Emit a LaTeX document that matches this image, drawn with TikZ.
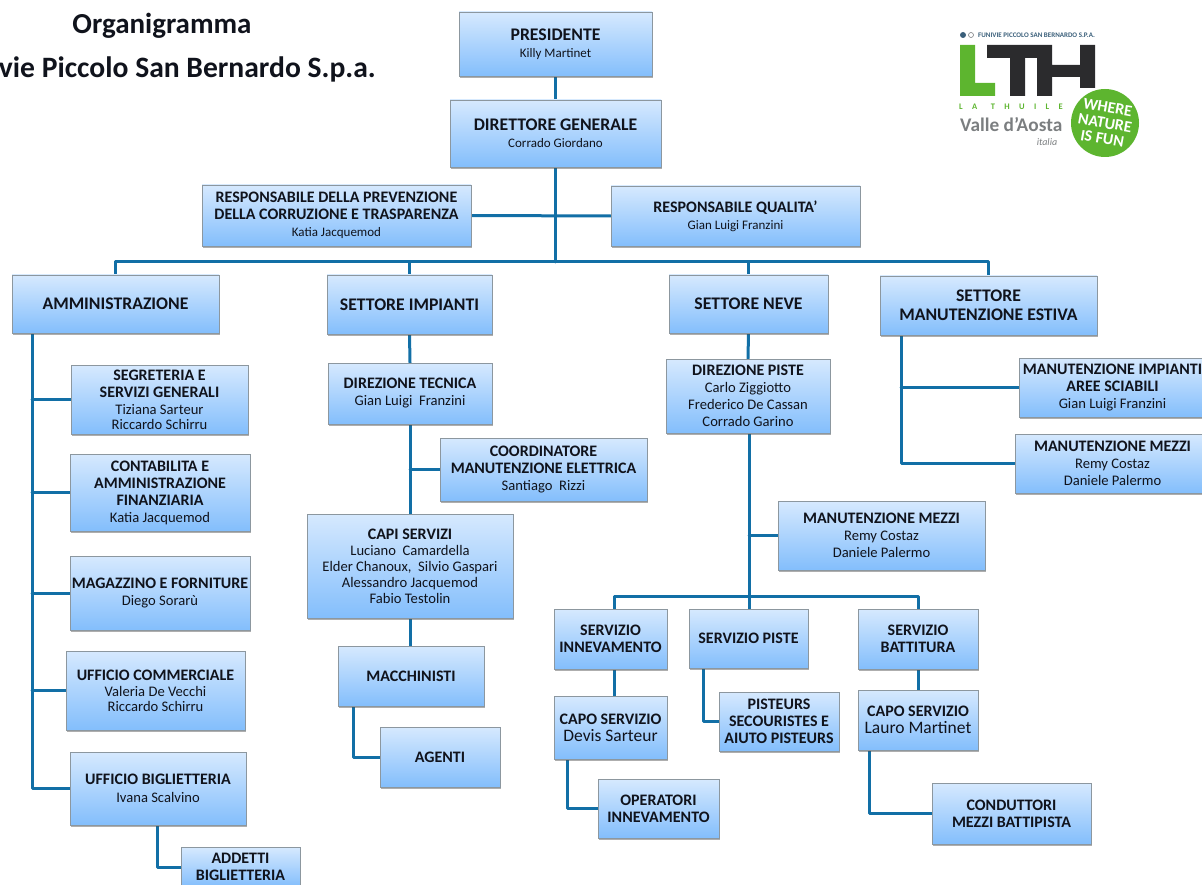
\documentclass[tikz,border=0pt]{standalone}
\usepackage{fontspec}
\setmainfont{Carlito}
\usetikzlibrary{shadows,backgrounds}
\definecolor{conn}{HTML}{126FA6}
\definecolor{boxtop}{HTML}{D6E9FE}
\definecolor{boxbot}{HTML}{83BEFC}
\definecolor{boxline}{HTML}{8C979F}
\definecolor{ink}{HTML}{10131C}
\definecolor{lgreen}{HTML}{5DB52F}
\definecolor{ldark}{HTML}{2B2B2D}
\definecolor{lgray}{HTML}{7B7E80}
\definecolor{lblue}{HTML}{3A5F7A}
\tikzset{
  boxn/.style={draw=boxline,line width=.6pt,top color=boxtop,bottom color=boxbot,
    drop shadow={shadow xshift=.8pt,shadow yshift=-1.6pt,opacity=.45,fill=black!70},
    inner sep=0pt,align=center,text=ink,font=\fontsize{16}{17}\selectfont},
  link/.style={draw=conn,line width=3pt,line join=round,line cap=round},
  titletext/.style={font=\fontsize{29}{32}\selectfont\bfseries,text=ink,inner sep=0pt}
}
\newcommand\hd[1]{{\bfseries #1}}
\newcommand\hb[1]{{\bfseries\fontsize{17.7}{19}\selectfont #1}}
\newcommand\sm[1]{{\fontsize{13}{14}\selectfont #1}}
\newcommand\nm[1]{{\fontsize{14.6}{16}\selectfont #1}}
\newcommand\lgn[1]{{\fontsize{17.5}{18}\selectfont #1}}
\newcommand\bx[6]{\node[boxn,minimum width={(#4-#2)*1pt},minimum height={(#5-#3)*1pt}] (#1) at ({(#2+#4)/2},{(#3+#5)/2}) {#6};}
\begin{document}
\begin{tikzpicture}[x=1pt,y=-1pt]
\useasboundingbox (0,0) rectangle (1202,885);
\clip (0,0) rectangle (1202,885);
% titles
\node[titletext] (t1) at (162,26) {Organigramma};
\node[titletext,anchor=east,font=\fontsize{29.6}{32}\selectfont\bfseries] (t2) at (376,69) {vie Piccolo San Bernardo S.p.a.};
% boxes
\bx{pres}{459}{12}{652}{76}{\hb{PRESIDENTE}\\\sm{Killy Martinet}}
\bx{dirg}{450}{100}{661}{167}{\hb{DIRETTORE GENERALE}\\\sm{Corrado Giordano}}
\bx{prev}{202}{185}{471}{246}{\hd{RESPONSABILE DELLA PREVENZIONE}\\\hd{DELLA CORRUZIONE E TRASPARENZA}\\\sm{Katia Jacquemod}}
\bx{qual}{611}{186}{860}{246}{\hd{RESPONSABILE QUALITA'}\\\sm{Gian Luigi Franzini}}
\bx{adm}{12}{275}{219}{333}{\hb{AMMINISTRAZIONE}}
\bx{imp}{327}{275}{492}{334}{\hb{SETTORE IMPIANTI}}
\bx{nev}{669}{275}{828}{333}{\hb{SETTORE NEVE}}
\bx{est}{880}{276}{1097}{335}{\hb{SETTORE}\\[2pt]\hb{MANUTENZIONE ESTIVA}}
\bx{seg}{71}{365}{248}{434}{\hd{SEGRETERIA E}\\\hd{SERVIZI GENERALI}\\\nm{Tiziana Sarteur}\\[-2pt]\nm{Riccardo Schirru}}
\bx{con}{70}{454}{250}{531}{\hd{CONTABILITA E}\\\hd{AMMINISTRAZIONE}\\\hd{FINANZIARIA}\\\nm{Katia Jacquemod}}
\bx{mag}{70}{556}{250}{630}{\hd{MAGAZZINO E FORNITURE}\\\nm{Diego Sorarù}}
\bx{com}{66}{651}{245}{730}{\hd{UFFICIO COMMERCIALE}\\[-1pt]\nm{Valeria De Vecchi}\\[-2pt]\nm{Riccardo Schirru}}
\bx{big}{70}{752}{246}{825}{\hd{UFFICIO BIGLIETTERIA}\\[1pt]\nm{Ivana Scalvino}}
\bx{add}{181}{847}{300}{887}{\hd{ADDETTI}\\\hd{BIGLIETTERIA}}
\bx{tec}{328}{363}{492}{424}{\hd{DIREZIONE TECNICA}\\\nm{Gian Luigi\ \ Franzini}}
\bx{coo}{440}{438}{647}{501}{\hd{COORDINATORE}\\\hd{MANUTENZIONE ELETTRICA}\\\nm{Santiago\ \ Rizzi}}
\bx{cap}{307}{514}{513}{618}{\hd{CAPI SERVIZI}\\[-1pt]\nm{Luciano\ \ Camardella}\\[-1pt]\nm{Elder Chanoux,\ \ Silvio Gaspari}\\[-1pt]\nm{Alessandro Jacquemod}\\[-1pt]\nm{Fabio Testolin}}
\bx{mac}{338}{646}{484}{706}{\hd{MACCHINISTI}}
\bx{age}{380}{727}{500}{787}{\hd{AGENTI}}
\bx{pis}{666}{359}{830}{433}{\hd{DIREZIONE PISTE}\\\nm{Carlo Ziggiotto}\\\nm{Frederico De Cassan}\\\nm{Corrado Garino}}
\bx{mmz}{778}{501}{985}{570}{\hd{MANUTENZIONE MEZZI}\\\nm{Remy Costaz}\\\nm{Daniele Palermo}}
\bx{inn}{554}{609}{667}{669}{\hd{SERVIZIO}\\\hd{INNEVAMENTO}}
\bx{spi}{689}{609}{808}{668}{\hd{SERVIZIO PISTE}}
\bx{bat}{858}{609}{978}{669}{\hd{SERVIZIO}\\\hd{BATTITURA}}
\bx{cde}{554}{696}{667}{759}{\hd{CAPO SERVIZIO}\\\lgn{Devis Sarteur}}
\bx{psc}{719}{692}{839}{751}{\hd{PISTEURS}\\\hd{SECOURISTES E}\\\hd{AIUTO PISTEURS}}
\bx{cla}{858}{690}{978}{750}{\hd{CAPO SERVIZIO}\\\lgn{Lauro Martinet}}
\bx{ope}{598}{779}{719}{838}{\hd{OPERATORI}\\\hd{INNEVAMENTO}}
\bx{cnd}{932}{783}{1091}{844}{\hd{CONDUTTORI}\\\hd{MEZZI BATTIPISTA}}
\bx{mim}{1019}{358}{1206}{417}{\hd{MANUTENZIONE IMPIANTI}\\\hd{AREE SCIABILI}\\\nm{Gian Luigi Franzini}}
\bx{mmr}{1015}{434}{1210}{493}{\hd{MANUTENZIONE MEZZI}\\\nm{Remy Costaz}\\\nm{Daniele Palermo}}
% routing points
\coordinate (bus) at (555.5,262);
\coordinate (admt) at (32,333);
\coordinate (addt) at (157,825);
\coordinate (mact) at (353,706);
\coordinate (cdet) at (567,759);
\coordinate (spit) at (703,668);
\coordinate (clat) at (869,750);
\coordinate (estt) at (901,335);
\coordinate (sbus) at (749,596);
\coordinate (pist) at (749,433);
\coordinate (tect) at (410,424);
\coordinate (innt) at (614,609);
\begin{scope}[on background layer]
\draw[link] (pres.south) -- (dirg.north);
\draw[link] (dirg.south) -- (bus);
\draw[link] (prev.east) -- (qual.west);
\draw[link] (adm.north) -- (adm.north |- bus) -- (est.north |- bus) -- (est.north);
\draw[link] (imp.north) -- (imp.north |- bus);
\draw[link] (nev.north) -- (nev.north |- bus);
% Amministrazione
\draw[link] (admt) -- (admt |- big.west) -- (big.west);
\draw[link] (admt |- seg.west) -- (seg.west);
\draw[link] (admt |- con.west) -- (con.west);
\draw[link] (admt |- mag.west) -- (mag.west);
\draw[link] (admt |- com.west) -- (com.west);
\draw[link] (addt) -- (addt |- add.west) -- (add.west);
% Impianti
\draw[link] (imp.south) -- (tec.north);
\draw[link] (tect) -- (tect |- cap.north);
\draw[link] (tect |- coo.west) -- (coo.west);
\draw[link] (cap.south -| tect) -- (mac.north -| tect);
\draw[link] (mact) -- (mact |- age.west) -- (age.west);
% Neve
\draw[link] (nev.south) -- (pis.north);
\draw[link] (pist) -- (sbus);
\draw[link] (pist |- mmz.west) -- (mmz.west);
\draw[link] (sbus) -- (sbus -| innt) -- (innt);
\draw[link] (sbus) -- (sbus -| bat.north) -- (bat.north);
\draw[link] (sbus) -- (spi.north -| sbus);
\draw[link] (inn.south -| innt) -- (cde.north -| innt);
\draw[link] (bat.south) -- (cla.north);
\draw[link] (cdet) -- (cdet |- ope.west) -- (ope.west);
\draw[link] (spit) -- (spit |- psc.west) -- (psc.west);
\draw[link] (clat) -- (clat |- cnd.west) -- (cnd.west);
% Estiva
\draw[link] (estt) -- (estt |- mmr.west) -- (mmr.west);
\draw[link] (estt |- mim.west) -- (mim.west);
\end{scope}
% logo
\fill[lgreen] (960,45) -- (975,45) -- (975,83) -- (995,83) -- (995,96) -- (960,96) -- cycle;
\fill[ldark] (987,45) -- (1052,45) -- (1052,65) -- (1080,65) -- (1080,45) -- (1095,45) -- (1095,88) -- (1080,88) -- (1080,77) -- (1052,77) -- (1052,96) -- (1037,96) -- (1037,58) -- (1025,58) -- (1025,96) -- (1010,96) -- (1010,58) -- (987,58) -- cycle;
\fill[lblue] (963,35) circle (3);
\draw[lgray,line width=.6pt] (971,35) circle (2.5);
\node[inner sep=0pt,anchor=west,text=lblue,font=\fontsize{7}{8}\selectfont\bfseries] (lg1) at (978,35) {FUNIVIE PICCOLO SAN BERNARDO S.P.A.};
\node[inner sep=0pt,anchor=west,text=lgreen,font=\fontsize{8.5}{10}\selectfont\bfseries] (lg2) at (959,107) {L\hspace{1.1em}A\hspace{1.6em}T\hspace{1.1em}H\hspace{1.1em}U\hspace{1.1em}I\hspace{1.1em}L\hspace{1.1em}E};
\node[inner sep=0pt,anchor=west,text=lgray,font=\fontsize{19.3}{20}\selectfont\bfseries] (lg3) at (960,125) {Valle d'Aosta};
\node[inner sep=0pt,text=lgray,font=\fontsize{10}{11}\selectfont\itshape] (lg4) at (1047,142) {italia};
\fill[lgreen] (1105,123) circle (34);
\node[inner sep=0pt,rotate=-10,align=center,text=white,font=\fontsize{16}{16}\selectfont\bfseries] (lg5) at (1105,123) {WHERE\\NATURE\\IS FUN};
\end{tikzpicture}
\end{document}
